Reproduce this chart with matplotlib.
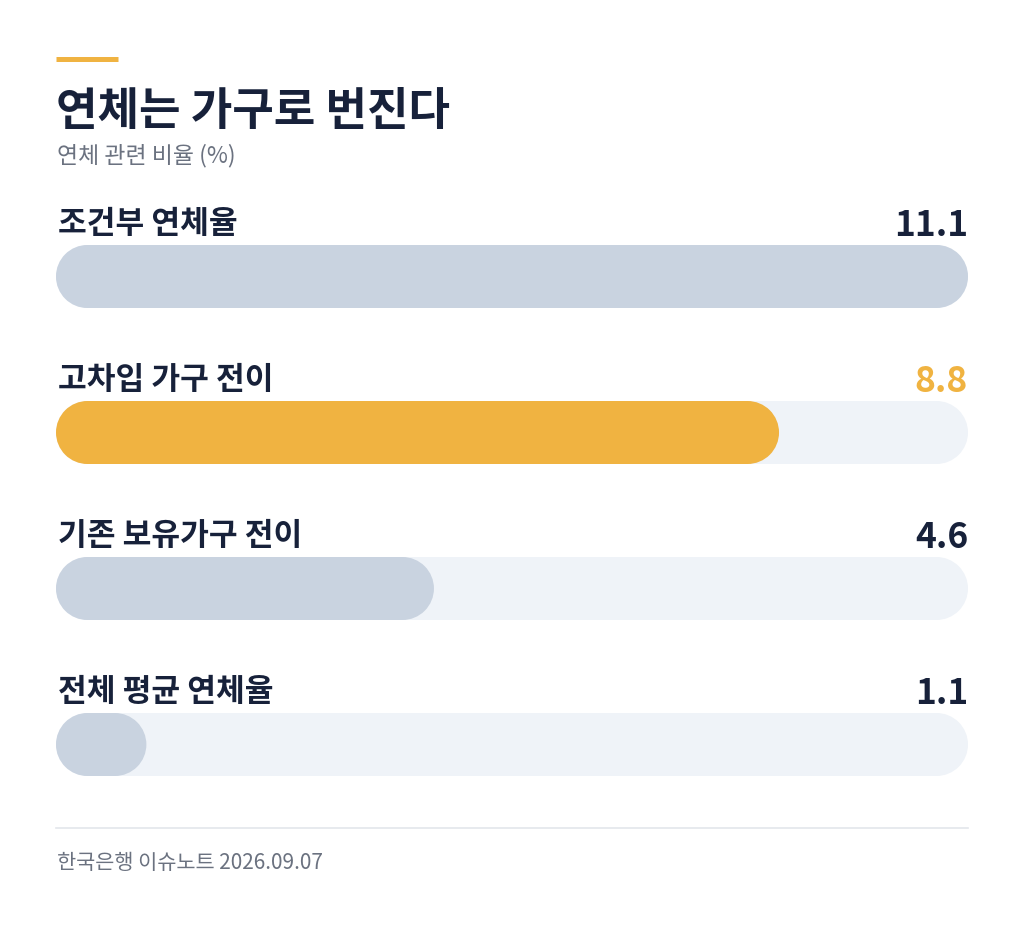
import matplotlib
matplotlib.use("Agg")
import matplotlib.pyplot as plt
from matplotlib.patches import Rectangle, Ellipse

plt.rcParams['font.family'] = ['Noto Sans CJK KR', 'DejaVu Sans']

title = "연체는 가구로 번진다"
subtitle = "연체 관련 비율 (%)"
source = "한국은행 이슈노트 2026.09.07"
categories = ["조건부 연체율", "고차입 가구 전이", "기존 보유가구 전이", "전체 평균 연체율"]
values = [11.1, 8.8, 4.6, 1.1]
highlight = [False, True, False, False]

NAVY = "#17213A"
GRAY_TXT = "#6B7280"
BAR = "#C9D3E0"
TRACK = "#EFF3F8"
ORANGE = "#F0B341"

W, H = 1024, 929
fig = plt.figure(figsize=(W / 100, H / 100), dpi=100)
fig.patch.set_facecolor("white")

# overlay axes in pixel coordinates
ov = fig.add_axes([0, 0, 1, 1])
ov.set_xlim(0, W)
ov.set_ylim(H, 0)
ov.axis("off")

ov.plot([56, 118], [59.5, 59.5], color=ORANGE, lw=5 * 0.72, solid_capstyle="butt")
ov.text(56, 125, title, fontsize=32.5, fontweight="bold", color=NAVY, va="baseline", ha="left")
ov.text(57, 162, subtitle, fontsize=16.5, color=GRAY_TXT, va="baseline", ha="left")
ov.plot([56, 968], [829, 829], color="#E3E6EB", lw=1.2)
ov.text(57, 869, source, fontsize=15, color=GRAY_TXT, va="baseline", ha="left")

# bar axes
left_px, right_px = 56, 968
top_px, bot_px = 180, 800
ax = fig.add_axes([left_px / W, 1 - bot_px / H, (right_px - left_px) / W, (bot_px - top_px) / H])
ax.axis("off")
vmax = max(values)
ax.set_xlim(0, vmax)
ax.set_ylim(bot_px, top_px)

sx = vmax / (right_px - left_px)  # data units per pixel in x
bar_h = 63
r = bar_h / 2
row_gap = 156
first_center = 277.5


def pill(v, yc, color, z):
    rx = r * sx
    ax.add_patch(Rectangle((rx, yc - bar_h / 2), max(v - 2 * rx, 0), bar_h, fc=color, ec="none", zorder=z))
    ax.add_patch(Ellipse((rx, yc), 2 * rx, bar_h, fc=color, ec="none", zorder=z))
    ax.add_patch(Ellipse((v - rx, yc), 2 * rx, bar_h, fc=color, ec="none", zorder=z))


for i, (cat, v, hl) in enumerate(zip(categories, values, highlight)):
    yc = first_center + i * row_gap
    pill(vmax, yc, TRACK, 1)
    pill(v, yc, ORANGE if hl else BAR, 2)
    ax.text(0.02, yc - 44, cat, fontsize=22.5, fontweight="bold", color=NAVY, va="baseline", ha="left")
    ax.text(vmax, yc - 41, f"{v:.1f}", fontsize=25.5, fontweight="bold",
            color=ORANGE if hl else NAVY, va="baseline", ha="right")

fig.savefig("out.png", dpi=100, facecolor="white")
